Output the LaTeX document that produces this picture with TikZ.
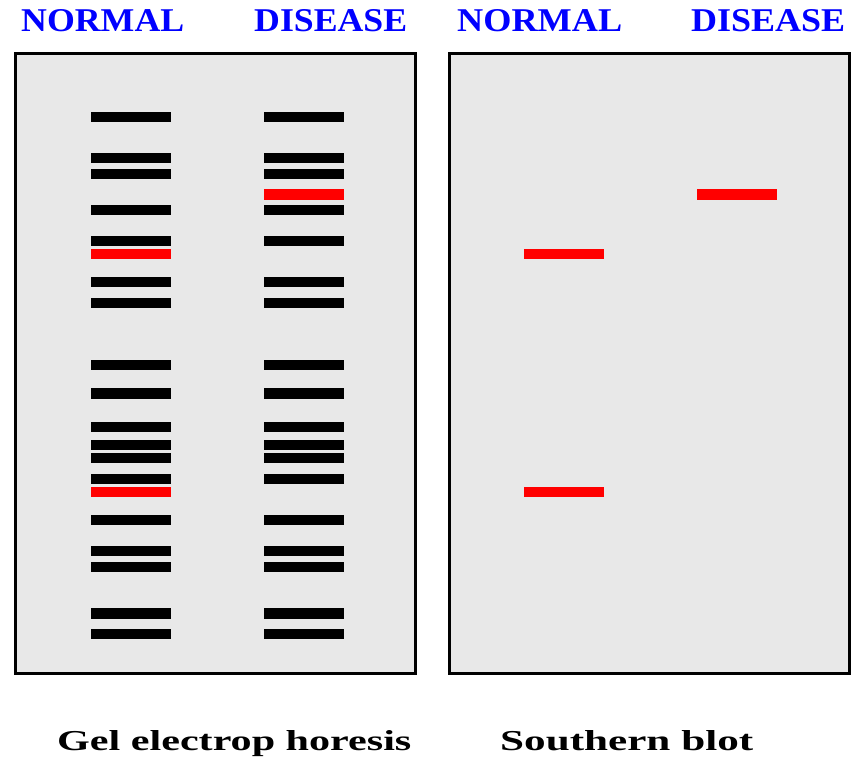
\documentclass[tikz,border=0pt]{standalone}
\usepackage{fontspec}
\setmainfont{Liberation Serif}
\usepackage{graphicx}
\definecolor{gelgray}{HTML}{E8E8E8}
\definecolor{hdrblue}{HTML}{0000FF}
\definecolor{bandred}{HTML}{FF0000}
\begin{document}
\begin{tikzpicture}[x=1pt,y=-1pt,
  panel/.style={draw=black,fill=gelgray,line width=3pt},
  hdr/.style={anchor=base west,inner sep=0pt,text=hdrblue,font=\bfseries},
  captxt/.style={anchor=base west,inner sep=0pt,text=black,font=\bfseries},
  blk/.style={fill=black},
  rd/.style={fill=bandred}]
\useasboundingbox (0,0) rectangle (863,760);
% panels
\draw[panel] (15.5,53.5) rectangle (415.5,673);
\draw[panel] (449,53.5) rectangle (849,673);
% headers
\node[hdr] (h1) at (21,32) {\resizebox{163pt}{22pt}{NORMAL}};
\node[hdr] (h2) at (254,32) {\resizebox{153pt}{22pt}{DISEASE}};
\node[hdr] (h3) at (457,32) {\resizebox{165pt}{22pt}{NORMAL}};
\node[hdr] (h4) at (691,32) {\resizebox{154pt}{22pt}{DISEASE}};
% gel: normal lane
\foreach \y in {112,153,169,205,236,277,298,360,422,440,453,474,515,546,562,629}
  \fill[blk] (91,\y) rectangle (171,\y+10);
\foreach \y in {388,608}
  \fill[blk] (91,\y) rectangle (171,\y+11);
\fill[rd] (91,249) rectangle (171,259);
\fill[rd] (91,487) rectangle (171,497);
% gel: disease lane
\foreach \y in {112,153,169,205,236,277,298,360,422,440,453,474,515,546,562,629}
  \fill[blk] (264,\y) rectangle (344,\y+10);
\foreach \y in {388,608}
  \fill[blk] (264,\y) rectangle (344,\y+11);
\fill[rd] (264,189) rectangle (344,200);
% southern blot
\fill[rd] (697,189) rectangle (777,200);
\fill[rd] (524,249) rectangle (604,259);
\fill[rd] (524,487) rectangle (604,497);
% captions
\node[captxt] (c1) at (57,750) {\resizebox{354pt}{20pt}{Gel electrop horesis}};
\node[captxt] (c2) at (500,750) {\resizebox{253pt}{20pt}{Southern blot}};
\end{tikzpicture}
\end{document}
